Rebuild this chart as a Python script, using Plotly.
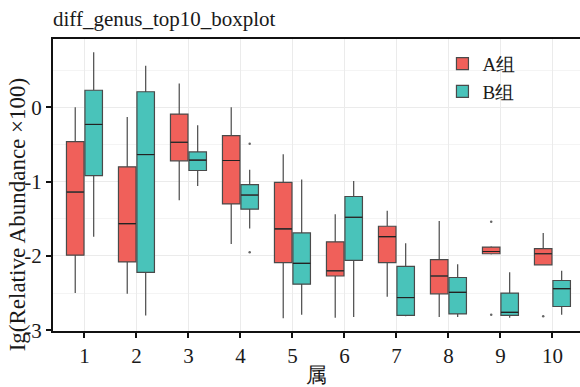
import plotly.graph_objects as go

genus = [1, 2, 3, 4, 5, 6, 7, 8, 9, 10]

a_upper = [0.0, -0.13, 0.32, 0.0, -0.63, -1.44, -1.39, -1.53, -1.87, -1.69]
a_q3 = [-0.46, -0.80, -0.09, -0.38, -1.01, -1.81, -1.60, -2.05, -1.88, -1.90]
a_med = [-1.14, -1.565, -0.47, -0.715, -1.635, -2.20, -1.74, -2.27, -1.94, -1.97]
a_q1 = [-1.99, -2.08, -0.72, -1.30, -2.09, -2.27, -2.09, -2.51, -1.97, -2.12]
a_lower = [-2.50, -2.51, -1.25, -1.84, -2.84, -2.83, -2.55, -2.82, -1.98, -2.12]
a_out_x = [9, 9, 10]
a_out_y = [-1.54, -2.79, -2.81]

b_upper = [0.74, 0.56, -0.24, -0.84, -0.97, -0.99, -1.83, -2.11, -2.22, -2.20]
b_q3 = [0.23, 0.21, -0.60, -1.04, -1.69, -1.20, -2.14, -2.29, -2.50, -2.33]
b_med = [-0.23, -0.635, -0.71, -1.18, -2.10, -1.48, -2.56, -2.49, -2.76, -2.44]
b_q1 = [-0.92, -2.22, -0.85, -1.37, -2.38, -2.06, -2.80, -2.78, -2.80, -2.68]
b_lower = [-1.74, -2.80, -1.06, -1.63, -2.79, -2.82, -2.81, -2.82, -2.83, -2.79]
b_out_x = [4, 4]
b_out_y = [-0.49, -1.95]

y_ticks = [0, -1, -2, -3]
y_tick_text = ["0", "-1", "-2", "-3"]

SERIF = "Liberation Serif"
BOXGAP = 0.29
BOXGROUPGAP = 0.05
# centre offset of each dodged box from its category position (data units)
dodge = (1 - BOXGAP) / 4

fig = go.Figure()
for k, (name, up, q3, med, q1, lo, ox, oy, fill) in enumerate([
    ("A组", a_upper, a_q3, a_med, a_q1, a_lower, a_out_x, a_out_y, "#F0605A"),
    ("B组", b_upper, b_q3, b_med, b_q1, b_lower, b_out_x, b_out_y, "#49C3BA"),
]):
    grp = "g%d" % k
    fig.add_trace(go.Box(
        name=name,
        x=genus,
        q1=q1, median=med, q3=q3,
        lowerfence=lo, upperfence=up,
        boxpoints=False,
        fillcolor=fill,
        line=dict(color="#4a4a4a", width=1.2),
        whiskerwidth=0,
        offsetgroup=grp, legendgroup=grp,
        hoverinfo="skip",
    ))
    # thicker, darker median bar drawn on top (flat box at the median)
    fig.add_trace(go.Box(
        name=name,
        x=genus,
        q1=med, median=med, q3=med,
        lowerfence=med, upperfence=med,
        boxpoints=False,
        fillcolor="rgba(0,0,0,0)",
        line=dict(color="#222222", width=1.1),
        whiskerwidth=0,
        offsetgroup=grp, legendgroup=grp, showlegend=False,
        hoverinfo="skip",
    ))
    sign = -1 if k == 0 else 1
    fig.add_trace(go.Scatter(
        x=[v + sign * dodge for v in ox], y=oy,
        mode="markers", marker=dict(color="#666666", size=2.5),
        showlegend=False, hoverinfo="skip",
    ))

fig.update_layout(
    width=580, height=387,
    margin=dict(l=53, r=0, t=39, b=53),
    paper_bgcolor="white", plot_bgcolor="white",
    boxmode="group", boxgap=BOXGAP, boxgroupgap=BOXGROUPGAP,
    font=dict(family=SERIF, size=20, color="#1a1a1a"),
    title=dict(text="diff_genus_top10_boxplot", xref="paper", x=0, xanchor="left",
               yref="container", y=0.953, yanchor="middle",
               font=dict(family=SERIF, size=21, color="#1a1a1a")),
    showlegend=True,
    legend=dict(x=0.739, y=0.98, xanchor="left", yanchor="top",
                bgcolor="rgba(0,0,0,0)", font=dict(family=SERIF, size=19),
                tracegroupgap=0, itemwidth=30),
    xaxis=dict(
        range=[0.395, 10.53], tickmode="array", tickvals=genus,
        ticktext=[str(g) for g in genus],
        showline=True, linecolor="#111111", linewidth=2, mirror=True,
        ticks="outside", ticklen=5, tickwidth=1.5, tickcolor="#111111",
        showgrid=True, gridcolor="#EBEBEB", gridwidth=1, zeroline=False,
        title=dict(text="属", font=dict(family=SERIF, size=21), standoff=4),
        tickfont=dict(family=SERIF, size=21),
    ),
    yaxis=dict(
        range=[-3.01, 0.92], tickmode="array", tickvals=y_ticks, ticktext=y_tick_text,
        showline=True, linecolor="#111111", linewidth=2, mirror=False,
        ticks="outside", ticklen=5, tickwidth=1.5, tickcolor="#111111",
        showgrid=True, gridcolor="#EBEBEB", gridwidth=1, zeroline=False,
        minor=dict(dtick=0.5, tick0=0, showgrid=True, gridcolor="#F4F4F4", gridwidth=1),
        tickfont=dict(family=SERIF, size=21),
    ),
    annotations=[dict(
        text="Ig(Relative Abundance ×100)", textangle=-90,
        xref="paper", yref="paper", x=-0.068, y=0.4,
        xanchor="center", yanchor="middle", showarrow=False,
        font=dict(family=SERIF, size=23, color="#1a1a1a"),
    )],
)

fig.write_html("out.html")
